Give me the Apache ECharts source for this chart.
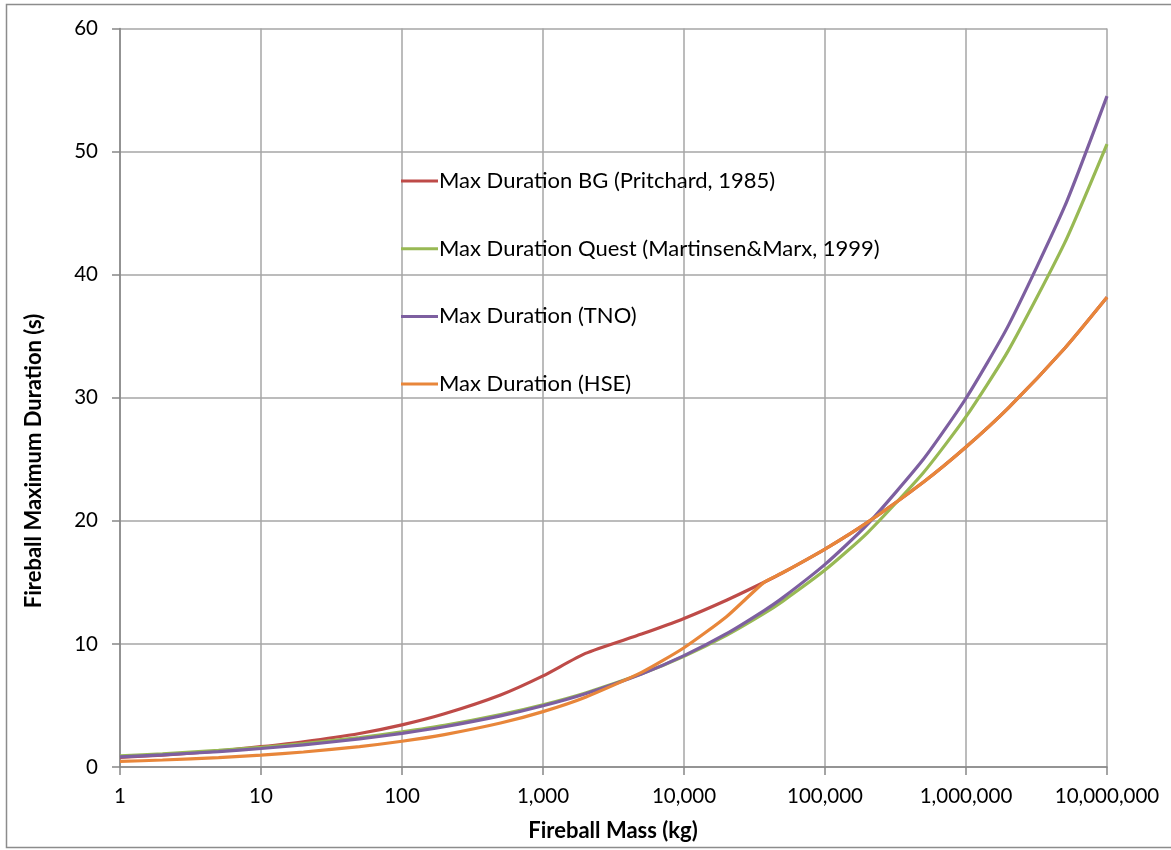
<!DOCTYPE html>
<html>
<head>
<meta charset="utf-8">
<script src="https://cdn.jsdelivr.net/npm/echarts@6/dist/echarts.min.js"></script>
<style>
  html, body { margin: 0; padding: 0; background: #ffffff; }
  #chart { width: 1171px; height: 850px; }
</style>
</head>
<body>
<div id="chart"></div>
<script>
// Fireball mass (kg) at which each duration was evaluated
const mass = [1, 2, 5, 10, 20, 50, 100, 200, 500, 1000, 2000, 5000, 10000, 20000, 37000,
              50000, 100000, 200000, 500000, 1000000, 2000000, 5000000, 10000000];

// Maximum fireball duration (s) for each correlation
const durationBG = [0.78, 0.97, 1.3, 1.65, 2.05, 2.72, 3.42, 4.32, 5.85, 7.4, 9.23, 10.8, 12.07,
                    13.55, 15.01, 15.78, 17.71, 19.88, 23.16, 26.0, 29.18, 34.0, 38.16];
const durationQuest = [0.9, 1.07, 1.35, 1.6, 1.9, 2.39, 2.85, 3.38, 4.26, 5.06, 6.02, 7.57, 9.0,
                       10.7, 12.48, 13.46, 16.0, 19.03, 23.93, 28.46, 33.85, 42.56, 50.61];
const durationTNO = [0.825, 0.988, 1.254, 1.501, 1.798, 2.281, 2.732, 3.271, 4.151, 4.971, 5.953,
                     7.554, 9.046, 10.83, 12.71, 13.74, 16.46, 19.71, 25.02, 29.96, 35.88, 45.52, 54.51];
const durationHSE = [0.45, 0.567, 0.769, 0.969, 1.221, 1.658, 2.089, 2.632, 3.572, 4.5, 5.67, 7.69,
                     9.69, 12.21, 15.0, 15.78, 17.71, 19.88, 23.16, 26.0, 29.18, 34.0, 38.16];

const seriesNames = [
  'Max Duration BG (Pritchard, 1985)',
  'Max Duration Quest (Martinsen&Marx, 1999)',
  'Max Duration (TNO)',
  'Max Duration (HSE)'
];
const seriesColors = ['#BE4B48', '#98B954', '#7D5FA0', '#E8863A'];

const xTitle = 'Fireball Mass (kg)';
const yTitle = 'Fireball Maximum Duration (s)';
const yTicks = { min: 0, max: 60, interval: 10 };
const xRange = { min: 1, max: 10000000 };

const FONT = 'Lato, "Open Sans", sans-serif';

function pairs(values) {
  return mass.map((m, i) => [m, values[i]]);
}

const allValues = [durationBG, durationQuest, durationTNO, durationHSE];

const chart = echarts.init(document.getElementById('chart'), null, { renderer: 'canvas' });

chart.setOption({
  backgroundColor: '#ffffff',
  animation: false,
  textStyle: { fontFamily: FONT },
  grid: { left: 120, top: 28.5, right: 64, bottom: 83, containLabel: false },
  xAxis: {
    type: 'log',
    logBase: 10,
    min: xRange.min,
    max: xRange.max,
    axisLine: { show: true, lineStyle: { color: '#868686', width: 1.5 } },
    axisTick: { show: true, length: 8, inside: false, lineStyle: { color: '#868686', width: 1.5 } },
    minorTick: { show: false },
    splitLine: { show: true, lineStyle: { color: '#A6A6A6', width: 1.5 } },
    axisLabel: {
      margin: 19,
      color: '#000000',
      fontSize: 20.5,
      fontFamily: FONT,
      formatter: v => Math.round(v).toLocaleString('en-US')
    }
  },
  yAxis: {
    type: 'value',
    min: yTicks.min,
    max: yTicks.max,
    interval: yTicks.interval,
    axisLine: { show: true, lineStyle: { color: '#868686', width: 1.5 } },
    axisTick: { show: true, length: 8, inside: false, lineStyle: { color: '#868686', width: 1.5 } },
    splitLine: { show: true, lineStyle: { color: '#A6A6A6', width: 1.5 } },
    axisLabel: { margin: 22, color: '#000000', fontSize: 20.5, fontFamily: FONT }
  },
  legend: {
    orient: 'vertical',
    left: 396,
    top: 163,
    itemWidth: 37,
    itemHeight: 3,
    itemGap: 41.7,
    icon: 'rect',
    textStyle: { color: '#000000', fontSize: 22, lineHeight: 26, fontFamily: FONT, padding: [0, 0, 0, -4] },
    data: seriesNames
  },
  graphic: [
    {
      type: 'rect',
      silent: true,
      shape: { x: 6.5, y: 4.5, width: 1200, height: 843 },
      style: { fill: null, stroke: '#8C8C8C', lineWidth: 1.5 }
    },
    {
      type: 'text',
      x: 613, y: 831,
      style: {
        text: xTitle, fill: '#000000', fontSize: 22, fontWeight: 'bold',
        fontFamily: FONT, align: 'center', verticalAlign: 'middle'
      }
    },
    {
      type: 'text',
      x: 34, y: 461,
      rotation: Math.PI / 2,
      style: {
        text: yTitle, fill: '#000000', fontSize: 22, fontWeight: 'bold',
        fontFamily: FONT, align: 'center', verticalAlign: 'middle'
      }
    }
  ],
  series: seriesNames.map((name, i) => ({
    name: name,
    type: 'line',
    data: pairs(allValues[i]),
    showSymbol: false,
    smooth: 0.2,
    color: seriesColors[i],
    lineStyle: { color: seriesColors[i], width: 3.2 }
  }))
});
</script>
</body>
</html>
